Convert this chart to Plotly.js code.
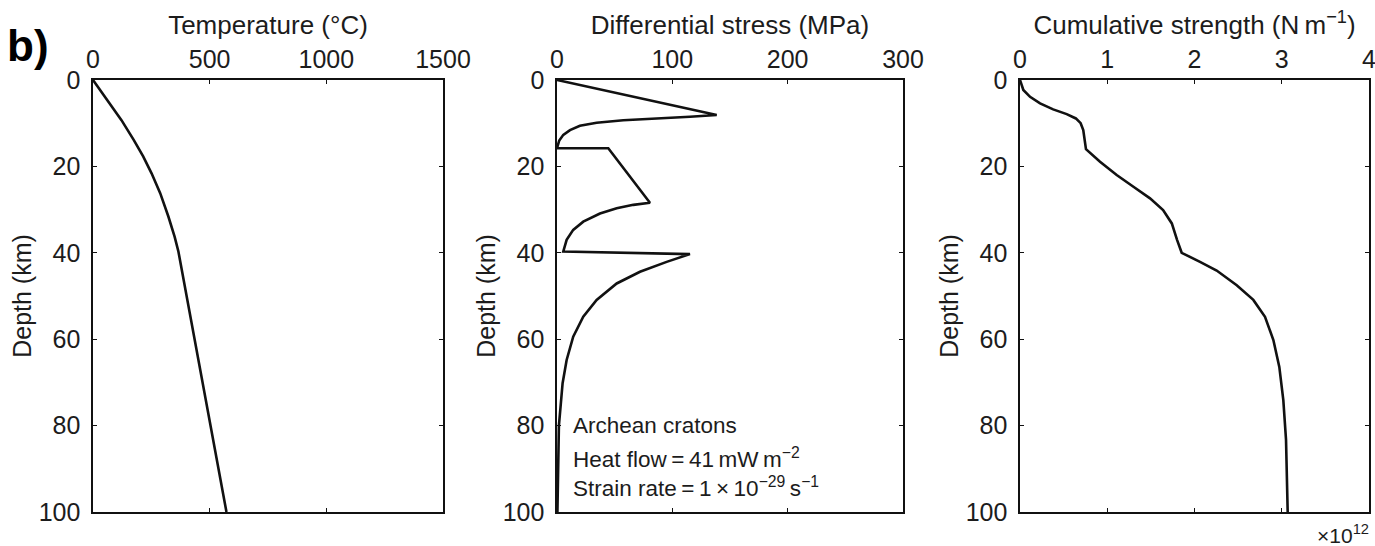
<!DOCTYPE html>
<html>
<head>
<meta charset="utf-8">
<script src="https://cdn.plot.ly/plotly-3.0.1.min.js"></script>
<style>html,body{margin:0;padding:0;background:#fff;}#chart{width:1375px;height:546px;}</style>
</head>
<body>
<div id="chart"></div>
<script>
// Panel 1: temperature profile
const tempDepth = [0, 4, 9.3, 13.9, 17.7, 21.6, 26.2, 31.6, 36.3, 39.7, 100];
const tempValue = [0, 53, 122, 175, 215, 251, 288, 323, 350, 366, 572];

// Panel 2: differential stress profile
const stressDepth = [0, 8.1, 8.5, 8.95, 9.3, 9.9, 10.6, 11.6, 12.7, 14.0, 15.4, 15.8, 15.8, 28.4, 28.9, 29.7, 30.9, 32.8, 34.7, 37.0, 39.7, 40.3, 42.1, 44.4, 47.1, 50.9, 54.8, 59.4, 64.8, 70.2, 80, 90, 100];
const stressValue = [0, 138.5, 115.3, 86.4, 57.5, 34.4, 19.9, 11.3, 5.5, 2.0, 0.3, 0, 44.5, 80.6, 66.2, 51.8, 37.3, 22.8, 14.1, 8.4, 5.5, 115.3, 95.1, 72, 51.8, 34.4, 22.8, 14.1, 8.4, 4.9, 1.7, 0.9, 0.4];

// Panel 3: cumulative strength (x 10^12 N m^-1)
const strengthDepth = [0, 2.3, 3.9, 5.4, 6.8, 7.9, 8.9, 10.0, 11.6, 13.5, 16.0, 18.9, 22.0, 24.7, 27.4, 30.1, 33.2, 37.0, 40.0, 42.1, 44.1, 47.5, 50.9, 54.8, 60.2, 66.4, 74.1, 83.3, 93.4, 100];
const strengthValue = [0, 0.038, 0.115, 0.23, 0.38, 0.535, 0.64, 0.695, 0.725, 0.74, 0.756, 0.917, 1.108, 1.30, 1.49, 1.64, 1.74, 1.80, 1.853, 2.063, 2.254, 2.484, 2.674, 2.808, 2.904, 2.972, 3.018, 3.049, 3.064, 3.068];

const xTitles = ["Temperature (°C)", "Differential stress (MPa)", "Cumulative strength (N\u2009m<sup>\u22121</sup>)"];
const yTitle = "Depth (km)";
const noteLines = ["Archean cratons", "Heat flow\u2009=\u200941\u2009mW\u2009m<sup>\u22122</sup>", "Strain rate\u2009=\u20091\u2009\u00d7\u200910<sup>\u221229</sup>\u2009s<sup>\u22121</sup>"];
const panelLabel = "b)";
const scaleLabel = "\u00d710<sup>12</sup>";

const FONT = "Liberation Sans, Arial, Helvetica, sans-serif";
const TXT = "#1c1c1c";
const lineStyle = {color: "#111", width: 2.6};

const traces = [
  {x: tempValue, y: tempDepth, xaxis: "x", yaxis: "y", mode: "lines", line: lineStyle, hoverinfo: "skip"},
  {x: stressValue, y: stressDepth, xaxis: "x2", yaxis: "y2", mode: "lines", line: lineStyle, hoverinfo: "skip"},
  {x: strengthValue, y: strengthDepth, xaxis: "x3", yaxis: "y3", mode: "lines", line: lineStyle, hoverinfo: "skip"}
];

function xAxis(domain, range, dtick, title, anchor) {
  return {
    domain: domain, range: range, dtick: dtick, tick0: 0, side: "top", anchor: anchor,
    showline: true, mirror: "ticks", linecolor: "#111", linewidth: 1.6,
    ticks: "inside", ticklen: 4, tickwidth: 1.2, tickcolor: "#111",
    showgrid: false, zeroline: false, ticklabeloverflow: "allow",
    tickfont: {family: FONT, size: 25, color: TXT},
    title: {text: title, font: {family: FONT, size: 26, color: TXT}, standoff: 3}
  };
}
function yAxis(anchor) {
  return {
    domain: [0, 1], range: [100, 0], dtick: 20, tick0: 0, anchor: anchor,
    showline: true, mirror: "ticks", linecolor: "#111", linewidth: 1.6,
    ticks: "inside", ticklen: 4, tickwidth: 1.2, tickcolor: "#111",
    showgrid: false, zeroline: false, ticklabelstandoff: 6, ticklabeloverflow: "allow",
    tickfont: {family: FONT, size: 25, color: TXT},
    title: {text: yTitle, font: {family: FONT, size: 25, color: TXT}, standoff: 0}
  };
}

const annotations = [];
const noteY = [0.201, 0.126, 0.058];
noteLines.forEach((t, i) => annotations.push({
  text: t, xref: "paper", yref: "paper", x: 0.3745, y: noteY[i], xanchor: "left", yanchor: "middle",
  showarrow: false, font: {family: FONT, size: 22.5, color: TXT}
}));
annotations.push({text: panelLabel, xref: "paper", yref: "paper", x: -0.069, y: 1.08, xanchor: "left", yanchor: "middle",
  showarrow: false, font: {family: "Liberation Sans, Arial, sans-serif", size: 44, color: "#000", weight: "bold"}});
annotations.push({text: scaleLabel, xref: "paper", yref: "paper", x: 1.0015, y: -0.05, xanchor: "right", yanchor: "middle",
  showarrow: false, font: {family: FONT, size: 21, color: TXT}});

const layout = {
  width: 1375, height: 546,
  margin: {l: 93, r: 6, t: 80, b: 34},
  paper_bgcolor: "#fff", plot_bgcolor: "#fff",
  showlegend: false,
  font: {family: FONT, color: TXT},
  xaxis: xAxis([0, 0.2743], [0, 1500], 500, xTitles[0], "y"),
  yaxis: yAxis("x"),
  xaxis2: xAxis([0.3636, 0.6348], [0, 300], 100, xTitles[1], "y2"),
  yaxis2: yAxis("x2"),
  xaxis3: xAxis([0.7265, 1.0], [0, 4], 1, xTitles[2], "y3"),
  yaxis3: yAxis("x3"),
  annotations: annotations
};

Plotly.newPlot("chart", traces, layout, {staticPlot: true, displayModeBar: false});
</script>
</body>
</html>
